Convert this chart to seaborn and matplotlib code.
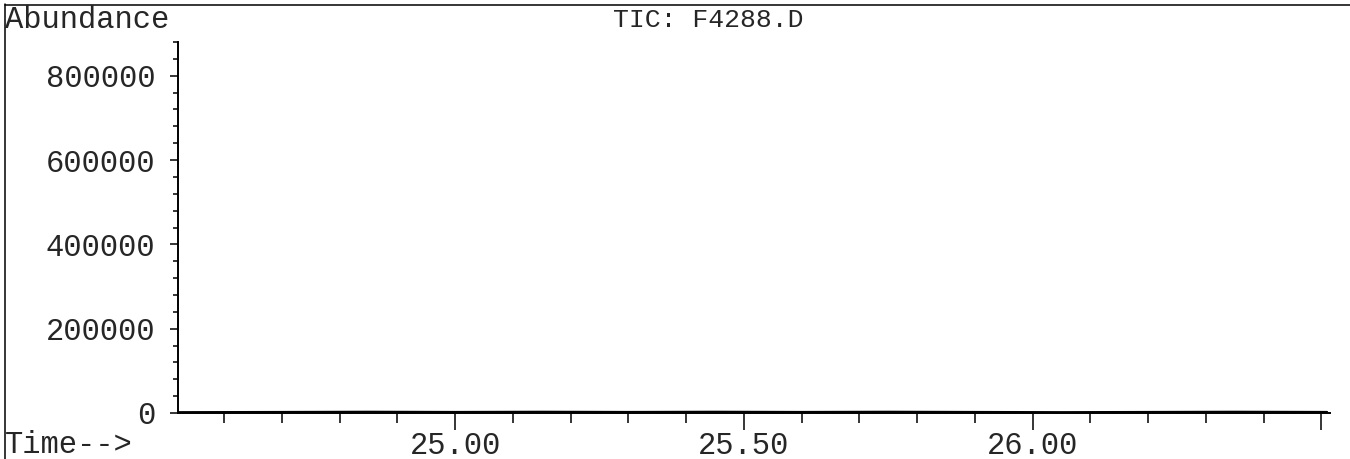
import matplotlib
matplotlib.use("Agg")
import matplotlib.pyplot as plt
from matplotlib.lines import Line2D
from matplotlib.ticker import MultipleLocator, FixedLocator
import seaborn as sns
import pandas as pd

# Data (trace is essentially flat at baseline)
time_min = [24.52, 24.70, 24.85, 25.00, 25.15, 25.30, 25.45, 25.60, 25.75, 25.90, 26.05, 26.20, 26.35, 26.51]
abundance = [2000, 2500, 3000, 2500, 3000, 2500, 3000, 2500, 3000, 2500, 2000, 2500, 3000, 2500]
x_major = [25.00, 25.50, 26.00, 26.50]
x_labels = ["25.00", "25.50", "26.00", ""]
y_major = [0, 200000, 400000, 600000, 800000]
y_labels = ["0", "200000", "400000", "600000", "800000"]

sns.set_style("ticks")
plt.rcParams['font.family'] = ['Liberation Mono', 'DejaVu Sans Mono']

fig = plt.figure(figsize=(13.5, 4.59), dpi=100)
ax = fig.add_axes([178/1350, 1 - 413/459, (1330-178)/1350, (413-42)/459])

df = pd.DataFrame({"time": time_min, "abundance": abundance})
sns.lineplot(data=df, x="time", y="abundance", ax=ax, color="black", linewidth=1.5)

ax.set_xlim(24.52, 26.515)
ax.set_ylim(0, 880000)

ax.xaxis.set_major_locator(FixedLocator(x_major))
ax.set_xticklabels(x_labels)
ax.xaxis.set_minor_locator(MultipleLocator(0.1))
ax.yaxis.set_major_locator(FixedLocator(y_major))
ax.set_yticklabels(y_labels)
ax.yaxis.set_minor_locator(MultipleLocator(40000))

ax.tick_params(axis="x", which="major", length=12.2, width=1.1, labelsize=22, pad=17.5, color="black")
ax.tick_params(axis="x", which="minor", length=7.2, width=1.1, color="black")
ax.tick_params(axis="y", which="major", length=5.8, width=1.1, labelsize=22, pad=10.5, color="black")
ax.tick_params(axis="y", which="minor", length=3.6, width=1.1, color="black")
for lab in ax.get_xticklabels():
    lab.set_verticalalignment("baseline")

for s in ["top", "right"]:
    ax.spines[s].set_visible(False)
for s in ["left", "bottom"]:
    ax.spines[s].set_linewidth(1.4)
    ax.spines[s].set_color("black")

ax.set_xlabel("")
ax.set_ylabel("")

fig.text(5/1350, 1 - 20/459, "Abundance", fontsize=22, ha="left", va="center")
fig.text(708/1350, 1 - 20/459, "TIC: F4288.D", fontsize=19, ha="center", va="center")
fig.text(5/1350, 1 - 445/459, "Time-->", fontsize=22, ha="left", va="center")

# page frame lines
fig.add_artist(Line2D([5/1350, 5/1350], [0, 1 - 4/459], color="black", linewidth=1.1, transform=fig.transFigure))
fig.add_artist(Line2D([5/1350, 1], [1 - 5/459, 1 - 5/459], color="black", linewidth=1.1, transform=fig.transFigure))

fig.savefig("out.png", dpi=100, facecolor="white")
